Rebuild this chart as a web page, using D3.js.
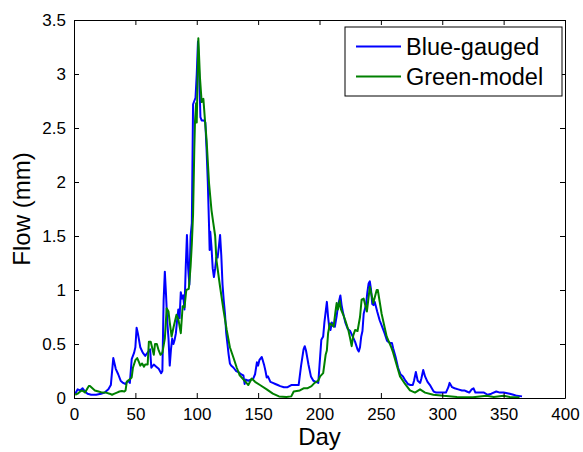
<!DOCTYPE html>
<html><head><meta charset="utf-8">
<script src="https://cdn.jsdelivr.net/npm/d3@7"></script>
<style>
html,body{margin:0;padding:0;background:#fff;}
text{font-family:"Liberation Sans",Arial,sans-serif;fill:#000;}
</style></head>
<body><svg id="chart" width="583" height="452"></svg>
<script>
const xTicks = [0,50,100,150,200,250,300,350,400];
const yTicks = [0,0.5,1,1.5,2,2.5,3,3.5];
const seriesNames = ["Blue-gauged","Green-model"];

const blueDay = [1,3,5,7,9,11,14,18,22,25,28,30,32,34,36,38,40,42,44,45.5,47,49,50,51,52,54,56,58,60,62,63,65,67,69,71,72,73,74,75,76,77,78,79,80,81,82,83,84,85,86,87,88,89,90,91,92,93,94,95,96,97,98,99,100,101,102,103,104,106,107,108,109,110,110.5,111,112,113,114,115,116,117,118,119,120,121,122,123,124,125,126,127,128,130,132,134,136,138,139,140,142,144,146,147.5,149,150,151,153,155,156,157,158,160,162,164,166,168,171,174,177,180,183,185,187,188,189,191,193,195,197,199,200,201.5,203,204,206,207,208,209,210,211,212.5,214,215,216,217,218,219,221,223,225,227,229,231,232,233,234,235,236,238,239,240,241,242,243,244,245,247,249,251,253,255,256,257.5,259,260,262,264,266,268,270,272,274,276,277,278.5,280,282,283,284.5,286,288,290,291,293,295,300,303,305,306,308,310,313,316,318,320,322,324,325.5,327,330,334,337,340,344,347,350,355,358,361,365];
const blueFlow = [0.04,0.08,0.07,0.09,0.06,0.04,0.03,0.03,0.04,0.05,0.08,0.12,0.37,0.27,0.22,0.16,0.14,0.13,0.16,0.14,0.36,0.42,0.47,0.65,0.6,0.47,0.42,0.39,0.42,0.45,0.28,0.31,0.29,0.27,0.23,0.25,0.9,1.17,0.95,0.7,0.55,0.3,0.45,0.55,0.5,0.54,0.6,0.72,0.82,0.74,0.98,0.92,0.95,0.82,1.2,1.51,1.2,1.05,1.5,1.62,2.72,2.75,2.78,3.0,3.3,3.0,2.6,2.57,2.57,2.55,2.3,2.0,1.6,1.37,1.54,1.4,1.2,1.12,1.2,1.3,1.3,1.4,1.51,1.32,1.05,0.9,0.78,0.6,0.5,0.4,0.32,0.3,0.28,0.25,0.24,0.22,0.21,0.13,0.17,0.16,0.17,0.18,0.22,0.33,0.3,0.35,0.38,0.3,0.25,0.19,0.2,0.15,0.14,0.13,0.12,0.11,0.1,0.1,0.12,0.12,0.12,0.3,0.45,0.48,0.44,0.31,0.2,0.16,0.15,0.14,0.3,0.54,0.57,0.7,0.89,0.75,0.65,0.63,0.7,0.67,0.66,0.76,0.85,0.9,0.95,0.86,0.8,0.7,0.64,0.62,0.57,0.52,0.45,0.43,0.47,0.57,0.62,0.78,0.87,0.98,1.06,1.08,1.0,0.87,0.86,0.89,0.8,0.72,0.66,0.6,0.53,0.52,0.51,0.51,0.46,0.38,0.28,0.22,0.2,0.16,0.13,0.12,0.12,0.16,0.24,0.16,0.14,0.18,0.26,0.2,0.15,0.12,0.1,0.06,0.05,0.05,0.05,0.1,0.14,0.1,0.09,0.08,0.07,0.07,0.06,0.05,0.08,0.09,0.05,0.05,0.05,0.03,0.04,0.06,0.05,0.05,0.04,0.03,0.02,0.015];

const greenDay = [1,3,5,6.5,8,9,11,12,13,15,17,20,23,26,29,31,33,35,37,39,41,42,43,45,47,48,50,51.5,53,54,55.5,57,58,60,61,62.5,64,65,66,67.5,69,70.5,72,74,75.5,77,78,79.5,81,83.5,85,87,88.5,90,91.5,93.5,95,96,97,98,98.6,99.5,100,101.3,102.6,104,105.4,106.7,108,110,112,113.5,115,116,119,121.7,124.4,127,130,132.6,135,139,142,144.8,147.5,151.5,157,162,167,173,177,179,184,187,190,193.5,196,199,200.5,203,205,206,207,208.5,210,211.5,213,214,215,216.5,217.5,219,221,223.5,225,226.2,227.5,229,231,233,234.3,236,238.6,241,243.8,246.6,247.5,250.6,254.7,258.8,260,263,265.6,269.7,273.7,277.8,281.9,286,292.7,301,312,325,336,342,350,355,363];
const greenFlow = [0.03,0.04,0.06,0.07,0.06,0.05,0.09,0.11,0.11,0.09,0.07,0.06,0.05,0.05,0.04,0.03,0.04,0.05,0.06,0.065,0.06,0.07,0.15,0.17,0.19,0.28,0.35,0.37,0.33,0.3,0.32,0.29,0.31,0.31,0.52,0.52,0.45,0.4,0.5,0.5,0.44,0.4,0.42,0.55,0.83,0.8,0.7,0.57,0.65,0.77,0.73,0.6,0.85,0.84,1.0,1.01,1.22,1.43,1.7,2.3,2.57,2.73,2.55,3.33,2.97,2.74,2.77,2.57,2.39,1.99,1.74,1.62,1.5,1.28,1.03,0.82,0.63,0.47,0.37,0.28,0.21,0.16,0.12,0.18,0.15,0.12,0.08,0.04,0.015,0.01,0.015,0.06,0.07,0.09,0.09,0.11,0.14,0.16,0.2,0.23,0.4,0.44,0.6,0.69,0.68,0.66,0.8,0.88,0.82,0.9,0.82,0.78,0.72,0.63,0.55,0.48,0.58,0.63,0.62,0.75,0.91,0.92,0.8,1.03,0.88,1.0,1.0,0.78,0.57,0.46,0.42,0.3,0.2,0.13,0.07,0.05,0.08,0.05,0.03,0.02,0.01,0.008,0.02,0.01,0.02,0.01,0.005];

const colors = ["#0000ff","#008000"];
const margin = {left:74, top:20, right:18, bottom:54};
const W = 583, H = 452;
const svg = d3.select("#chart");
const x = d3.scaleLinear().domain([0,400]).range([margin.left, W - margin.right]);
const y = d3.scaleLinear().domain([0,3.5]).range([H - margin.bottom, margin.top]);

const series = [
  {name:seriesNames[0], color:colors[0], data: blueDay.map((d,i)=>[d, blueFlow[i]])},
  {name:seriesNames[1], color:colors[1], data: greenDay.map((d,i)=>[d, greenFlow[i]])}
];

const line = d3.line().x(d=>x(d[0])).y(d=>y(d[1]));
svg.append("g").selectAll("path").data(series).join("path")
  .attr("d", d=>line(d.data)).attr("fill","none")
  .attr("stroke", d=>d.color).attr("stroke-width",2).attr("stroke-linejoin","round");

// axes (ticks inward, MATLAB-like box)
const tl = 5;
const xB = d3.axisBottom(x).tickValues(xTicks).tickSizeInner(-tl).tickSizeOuter(0).tickPadding(10).tickFormat(d3.format("d"));
const xT = d3.axisTop(x).tickValues(xTicks).tickSizeInner(-tl).tickSizeOuter(0).tickFormat("");
const yL = d3.axisLeft(y).tickValues(yTicks).tickSizeInner(-tl).tickSizeOuter(0).tickPadding(8).tickFormat(d=>String(d));
const yR = d3.axisRight(y).tickValues(yTicks).tickSizeInner(-tl).tickSizeOuter(0).tickFormat("");

function style(g){
  g.select(".domain").attr("stroke","#000").attr("stroke-width",1);
  g.selectAll(".tick line").attr("stroke","#000");
  g.selectAll(".tick text").style("font-family","'Liberation Sans',Arial,sans-serif").style("font-size","17px").attr("fill","#000");
}
svg.append("g").attr("transform",`translate(0,${H-margin.bottom})`).call(xB).call(style);
svg.append("g").attr("transform",`translate(0,${margin.top})`).call(xT).call(style);
svg.append("g").attr("transform",`translate(${margin.left},0)`).call(yL).call(style);
svg.append("g").attr("transform",`translate(${W-margin.right},0)`).call(yR).call(style);

// axis labels
svg.append("text").attr("x", (x(0)+x(400))/2).attr("y", 445).attr("text-anchor","middle")
  .style("font-size","24px").text("Day");
svg.append("text").attr("transform",`translate(30,${(y(0)+y(3.5))/2}) rotate(-90)`).attr("text-anchor","middle")
  .style("font-size","24px").text("Flow (mm)");

// legend
const lg = svg.append("g");
lg.append("rect").attr("x",345).attr("y",27).attr("width",217).attr("height",69)
  .attr("fill","#fff").attr("stroke","#000").attr("stroke-width",1);
series.forEach((s,i)=>{
  const cy = 46.5 + i*30;
  lg.append("line").attr("x1",356).attr("x2",401).attr("y1",cy).attr("y2",cy)
    .attr("stroke",s.color).attr("stroke-width",2);
  lg.append("text").attr("x",406).attr("y",cy+8.5).style("font-size","23.5px").text(s.name);
});
</script></body></html>
